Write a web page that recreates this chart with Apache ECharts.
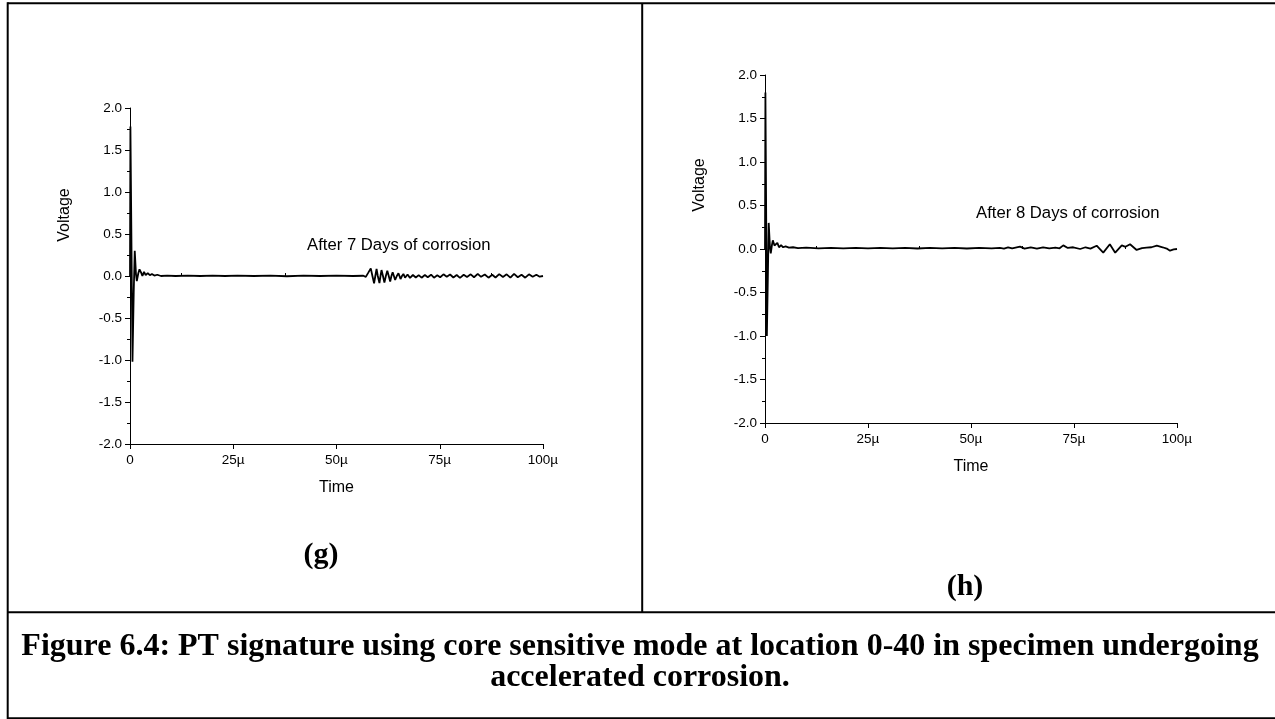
<!DOCTYPE html>
<html>
<head>
<meta charset="utf-8">
<style>
html,body{margin:0;padding:0;background:#fff;}
#chart{width:1275px;height:719px;}
</style>
<script src="https://cdn.jsdelivr.net/npm/echarts@6/dist/echarts.min.js"></script>
</head>
<body>
<div id="chart"></div>
<script>
// ---- data (time in microseconds, voltage in V) ----
const gTime = [0,0.1,0.35,0.6,0.9,1.15,1.45,1.65,2.0,2.3,2.7,3.0,3.4,3.8,4.3,4.8,5.3,5.9,6.6,7.5,9,11,14,17,20,23,26,30,34,38,42,46,50,54,56.5,57.1,57.7,58.3,58.7,59.1,59.4,59.7,60.0,60.4,60.65,60.9,61.25,61.6,61.95,62.3,62.65,63.0,63.3,63.6,63.9,64.2,64.6,65.0,65.25,65.5,65.85,66.2,66.6,67.2,67.8,68.5,69.2,69.9,70.6,71.4,72.1,72.9,73.6,74.4,75.1,75.9,76.7,77.5,78.3,79.1,79.9,80.8,81.6,82.5,83.3,84.2,85.0,85.9,86.8,87.7,88.5,89.4,90.3,91.2,92.1,93.0,93.9,94.8,95.7,96.6,97.5,98.4,99.2,100];
const gVolt = [0,1.78,0.4,-1.02,-0.2,0.3,0.02,-0.06,0.03,0.08,0.04,0.0,0.05,0.01,0.035,0.01,0.025,0.005,0.015,0.0,0.005,0.0,0.004,0.0,0.005,0.0,0.004,0.0,0.005,-0.003,0.004,0.0,0.005,0.0,0.003,-0.01,0.04,0.091,0.0,-0.087,0.0,0.083,0.0,-0.085,0.0,0.071,0.0,-0.079,0.0,0.063,0.0,-0.067,0.0,0.044,0.0,-0.048,0.0,0.032,0.0,-0.036,0.0,0.024,-0.02,0.018,-0.022,0.012,-0.018,0.01,-0.02,0.012,-0.015,0.015,-0.02,0.008,-0.015,0.02,-0.01,0.018,-0.018,0.012,-0.022,0.015,-0.012,0.02,-0.015,0.025,-0.01,0.018,-0.02,0.015,-0.018,0.022,-0.012,0.02,-0.02,0.025,-0.015,0.015,-0.02,0.02,-0.01,0.015,-0.008,0.0];

const hTime = [0,0.1,0.3,0.45,0.7,0.9,1.2,1.4,1.7,1.9,2.3,2.6,3.0,3.4,3.9,4.4,5.0,5.8,6.8,8,10,13,16,19,22,25,28,31,34,37,40,43,46,49,52,55,57,58,59,60,61.9,63,64.5,66,67.5,69,70.5,71.5,72.4,73.5,74.8,76.5,77.8,79.0,80.5,82.1,83.7,85.0,86.6,87.5,88.6,90.2,91.5,92.6,93.8,95.1,96.5,97.5,98.3,99.2,100];
const hVolt = [0,1.8,0.3,-1.0,-0.3,0.3,0.02,-0.05,0.05,0.1,0.04,0.02,0.07,0.02,0.045,0.02,0.03,0.015,0.02,0.01,0.015,0.008,0.012,0.008,0.013,0.008,0.012,0.007,0.012,0.006,0.012,0.008,0.013,0.006,0.012,0.007,0.012,0.004,0.018,0.006,0.027,0.005,0.018,0.003,0.02,0.006,0.015,0.008,0.042,0.012,0.02,0.0,0.02,0.005,0.038,-0.042,0.054,-0.042,0.042,0.025,0.054,-0.011,0.01,0.015,0.02,0.038,0.02,0.005,-0.019,-0.005,0.0];

const xTicks = [0,25,50,75,100];
const xMinorTicks = [12.5,37.5,62.5,87.5];
const yTicks = [-2.0,-1.5,-1.0,-0.5,0.0,0.5,1.0,1.5,2.0];

const annotG = 'After 7 Days of corrosion';
const annotH = 'After 8 Days of corrosion';
const captionLines = ['Figure 6.4: PT signature using core sensitive mode at location 0-40 in specimen undergoing','accelerated corrosion.'];

// ---- build ----
const pair = (t, v) => t.map((x, i) => [x, v[i]]);
const SANS = '"Liberation Sans", Arial, sans-serif';
const SERIF = '"Liberation Serif", "Times New Roman", serif';

function xAxesFor(gi) {
  return [{
    type: 'value', gridIndex: gi, min: xTicks[0], max: xTicks[xTicks.length-1], interval: 25,
    position: 'bottom',
    name: 'Time', nameLocation: 'middle', nameGap: 36,
    nameTextStyle: {fontFamily: SANS, fontSize: 16, color: '#000'},
    axisLine: {show: true, onZero: false, lineStyle: {color: '#000', width: 1}},
    axisTick: {show: true, length: 5, lineStyle: {color: '#000'}},
    axisLabel: {fontFamily: SANS, fontSize: 13.5, color: '#000', margin: 9,
      formatter: v => v === 0 ? '0' : v + 'µ'},
    splitLine: {show: false}
  }, {
    type: 'value', gridIndex: gi, min: xTicks[0], max: xTicks[xTicks.length-1],
    position: 'bottom',
    axisLine: {show: false},
    axisTick: {show: true, inside: true, length: 3, customValues: xMinorTicks, lineStyle: {color: '#000'}},
    axisLabel: {show: false},
    splitLine: {show: false}
  }];
}
function yAxisFor(gi) {
  return {
    type: 'value', gridIndex: gi, min: yTicks[0], max: yTicks[yTicks.length-1], interval: 0.5,
    axisLine: {show: true, onZero: false, lineStyle: {color: '#000', width: 1}},
    axisTick: {show: true, length: 5, lineStyle: {color: '#000'}},
    minorTick: {show: true, splitNumber: 2, length: 3, lineStyle: {color: '#000'}},
    axisLabel: {fontFamily: SANS, fontSize: 13.5, color: '#000', margin: 8,
      formatter: v => v.toFixed(1)},
    splitLine: {show: false}
  };
}
const lineStyle = {color: '#000', width: 1.8};

const chart = echarts.init(document.getElementById('chart'), null, {renderer: 'canvas'});
chart.setOption({
  animation: false,
  backgroundColor: '#fff',
  grid: [
    {left: 130, top: 108, width: 413, height: 336},
    {left: 765, top: 75, width: 412, height: 348}
  ],
  xAxis: [...xAxesFor(0), ...xAxesFor(1)],
  yAxis: [yAxisFor(0), yAxisFor(1)],
  series: [
    {type: 'line', xAxisIndex: 0, yAxisIndex: 0, data: pair(gTime, gVolt), showSymbol: false, lineStyle, silent: true},
    {type: 'line', xAxisIndex: 2, yAxisIndex: 1, data: pair(hTime, hVolt), showSymbol: false, lineStyle, silent: true}
  ],
  graphic: [
    // table borders
    {type: 'line', shape: {x1: 7.5, y1: 3.2, x2: 1275, y2: 3.2}, style: {stroke: '#000', lineWidth: 2}},
    {type: 'line', shape: {x1: 7.7, y1: 2.2, x2: 7.7, y2: 719}, style: {stroke: '#000', lineWidth: 2}},
    {type: 'line', shape: {x1: 642.2, y1: 3, x2: 642.2, y2: 612}, style: {stroke: '#000', lineWidth: 2}},
    {type: 'line', shape: {x1: 7, y1: 612.2, x2: 1275, y2: 612.2}, style: {stroke: '#000', lineWidth: 2}},
    {type: 'line', shape: {x1: 7, y1: 718.3, x2: 1275, y2: 718.3}, style: {stroke: '#000', lineWidth: 2}},
    // axis names "Voltage"
    {type: 'text', x: 65, y: 215, rotation: Math.PI/2,
      style: {text: 'Voltage', font: '16px ' + SANS, fill: '#000', align: 'center', verticalAlign: 'middle'}},
    {type: 'text', x: 700, y: 185, rotation: Math.PI/2,
      style: {text: 'Voltage', font: '16px ' + SANS, fill: '#000', align: 'center', verticalAlign: 'middle'}},
    // annotations
    {type: 'text', x: 307, y: 245,
      style: {text: annotG, font: '16.7px ' + SANS, fill: '#000', align: 'left', verticalAlign: 'middle'}},
    {type: 'text', x: 976, y: 213,
      style: {text: annotH, font: '16.7px ' + SANS, fill: '#000', align: 'left', verticalAlign: 'middle'}},
    // panel labels
    {type: 'text', x: 321, y: 555,
      style: {text: '(g)', font: 'bold 30px ' + SERIF, fill: '#000', align: 'center', verticalAlign: 'middle'}},
    {type: 'text', x: 965, y: 587,
      style: {text: '(h)', font: 'bold 30px ' + SERIF, fill: '#000', align: 'center', verticalAlign: 'middle'}},
    // caption
    {type: 'text', x: 640, y: 647,
      style: {text: captionLines[0], font: 'bold 32px ' + SERIF, fill: '#000', align: 'center', verticalAlign: 'middle'}},
    {type: 'text', x: 640, y: 678,
      style: {text: captionLines[1], font: 'bold 32px ' + SERIF, fill: '#000', align: 'center', verticalAlign: 'middle'}}
  ]
});
</script>
</body>
</html>
